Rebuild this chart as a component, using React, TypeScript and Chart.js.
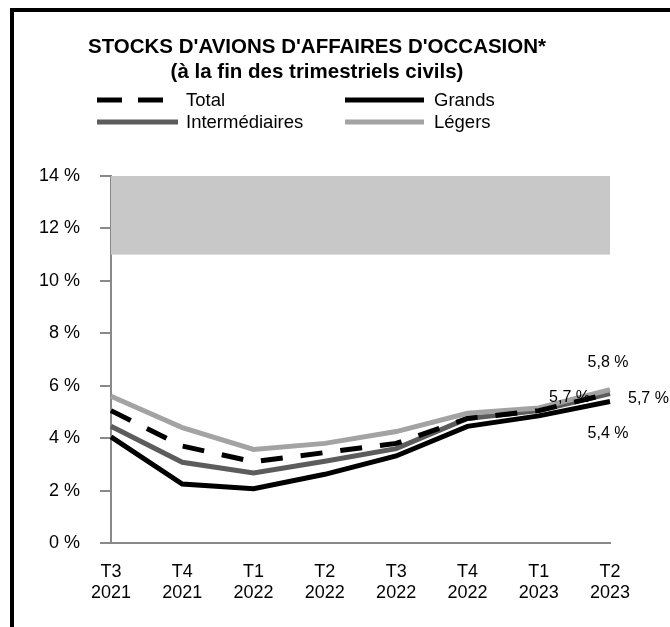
import React, { useEffect, useRef } from "react";
import { Chart, registerables } from "chart.js";

Chart.register(...registerables);

const categories: string[][] = [
  ["T3", "2021"], ["T4", "2021"], ["T1", "2022"], ["T2", "2022"],
  ["T3", "2022"], ["T4", "2022"], ["T1", "2023"], ["T2", "2023"],
];
const totalValues = [5.05, 3.7, 3.1, 3.45, 3.8, 4.75, 5.05, 5.7];
const grandsValues = [4.05, 2.25, 2.07, 2.62, 3.32, 4.45, 4.85, 5.4];
const intermValues = [4.45, 3.08, 2.67, 3.12, 3.6, 4.75, 5.05, 5.7];
const legersValues = [5.6, 4.4, 3.57, 3.8, 4.25, 4.95, 5.15, 5.85];
const bandRange = [11, 14];
const yMin = 0;
const yMax = 14;
const yStep = 2;
const endLabels = { total: "5,7 %", grands: "5,4 %", interm: "5,7 %", legers: "5,8 %" };
const titleLines = ["STOCKS D'AVIONS D'AFFAIRES D'OCCASION*", "(à la fin des trimestriels civils)"];

const FONT = "'Liberation Sans', Arial, sans-serif";
const AXIS_GREY = "#898989";
const BAND_GREY = "#c8c8c8";
const INTERM_GREY = "#5c5c5c";
const LEGERS_GREY = "#a3a3a3";

const bandPlugin = {
  id: "band",
  beforeDatasetsDraw(chart: any) {
    const { ctx, chartArea, scales } = chart;
    const y = scales.y;
    const top = y.getPixelForValue(bandRange[1]);
    const bottom = y.getPixelForValue(bandRange[0]);
    ctx.save();
    ctx.fillStyle = BAND_GREY;
    ctx.fillRect(chartArea.left, top, chartArea.right - chartArea.left, bottom - top);
    ctx.restore();
  },
};

const headerPlugin = {
  id: "header",
  afterDraw(chart: any) {
    const { ctx } = chart;
    ctx.save();
    ctx.fillStyle = "#000";
    ctx.textAlign = "center";
    ctx.textBaseline = "middle";
    ctx.font = `bold 20.5px ${FONT}`;
    ctx.fillText(titleLines[0], 317, 47.5);
    ctx.fillText(titleLines[1], 317, 72.5);

    const items = [
      { label: "Total", color: "#000", dash: [25, 16], x: 97, x2: 164, tx: 186, y: 100 },
      { label: "Grands", color: "#000", dash: [], x: 345, x2: 424, tx: 434, y: 100 },
      { label: "Intermédiaires", color: INTERM_GREY, dash: [], x: 97, x2: 178, tx: 186, y: 122 },
      { label: "Légers", color: LEGERS_GREY, dash: [], x: 345, x2: 424, tx: 434, y: 122 },
    ];
    ctx.font = `18.5px ${FONT}`;
    ctx.textAlign = "left";
    for (const it of items) {
      ctx.beginPath();
      ctx.lineWidth = 5;
      ctx.strokeStyle = it.color;
      ctx.setLineDash(it.dash);
      ctx.lineCap = "butt";
      ctx.moveTo(it.x, it.y);
      ctx.lineTo(it.x2, it.y);
      ctx.stroke();
      ctx.setLineDash([]);
      ctx.fillStyle = "#000";
      ctx.fillText(it.label, it.tx, it.y + 1);
    }
    ctx.restore();
  },
};

const endLabelPlugin = {
  id: "endLabels",
  afterDatasetsDraw(chart: any) {
    const { ctx } = chart;
    ctx.save();
    ctx.fillStyle = "#000";
    ctx.font = `16px ${FONT}`;
    chart.data.datasets.forEach((ds: any, i: number) => {
      const meta = chart.getDatasetMeta(i);
      const pt = meta.data[meta.data.length - 1];
      if (!pt) return;
      const x = pt.x;
      const y = pt.y;
      const pos = ds.endPos;
      const txt = ds.endLabel;
      ctx.textBaseline = "middle";
      if (pos === "above") {
        ctx.textAlign = "center";
        ctx.fillText(txt, x - 2, y - 27);
      } else if (pos === "below") {
        ctx.textAlign = "center";
        ctx.fillText(txt, x - 2, y + 32);
      } else if (pos === "right") {
        ctx.textAlign = "left";
        ctx.fillText(txt, x + 18, y + 5);
      } else if (pos === "left") {
        ctx.textAlign = "right";
        ctx.fillText(txt, x - 20, y + 4);
      }
    });
    ctx.restore();
  },
};

export default function App() {
  const canvasRef = useRef<HTMLCanvasElement | null>(null);

  useEffect(() => {
    const canvas = canvasRef.current;
    if (!canvas) return;
    const chart = new Chart(canvas, {
      type: "line",
      data: {
        labels: categories,
        datasets: [
          {
            label: "Total",
            data: totalValues,
            borderColor: "#000",
            borderWidth: 5,
            borderDash: [22, 18],
            pointRadius: 0,
            tension: 0,
            fill: false,
            endLabel: endLabels.total,
            endPos: "right",
          } as any,
          {
            label: "Légers",
            data: legersValues,
            borderColor: LEGERS_GREY,
            borderWidth: 5,
            pointRadius: 0,
            tension: 0,
            fill: false,
            endLabel: endLabels.legers,
            endPos: "above",
          } as any,
          {
            label: "Intermédiaires",
            data: intermValues,
            borderColor: INTERM_GREY,
            borderWidth: 5,
            pointRadius: 0,
            tension: 0,
            fill: false,
            endLabel: endLabels.interm,
            endPos: "left",
          } as any,
          {
            label: "Grands",
            data: grandsValues,
            borderColor: "#000",
            borderWidth: 5,
            pointRadius: 0,
            tension: 0,
            fill: false,
            endLabel: endLabels.grands,
            endPos: "below",
          } as any,
        ],
      },
      options: {
        animation: false,
        responsive: false,
        maintainAspectRatio: false,
        events: [],
        layout: { padding: { left: 0, right: 60, top: 176, bottom: 0 } },
        plugins: {
          legend: { display: false },
          title: { display: false },
          tooltip: { enabled: false },
        },
        scales: {
          x: {
            type: "category",
            offset: false,
            grid: { display: false, drawTicks: false },
            border: { display: true, color: AXIS_GREY, width: 2 },
            ticks: {
              color: "#000",
              font: { family: FONT, size: 18, lineHeight: 1.2 },
              padding: 18,
              maxRotation: 0,
              autoSkip: false,
            },
            afterFit(scale: any) {
              scale.height = 84;
            },
          },
          y: {
            min: yMin,
            max: yMax,
            grid: {
              display: true,
              drawOnChartArea: false,
              drawTicks: true,
              tickLength: 11,
              color: AXIS_GREY,
              lineWidth: 2,
            },
            border: { display: true, color: AXIS_GREY, width: 2 },
            ticks: {
              stepSize: yStep,
              color: "#000",
              font: { family: FONT, size: 18 },
              padding: 20,
              callback: (v: any) => `${v} %`,
            },
            afterFit(scale: any) {
              scale.width = 111;
            },
          },
        },
      },
      plugins: [bandPlugin, headerPlugin, endLabelPlugin],
    } as any);
    return () => chart.destroy();
  }, []);

  return (
    <div>
      <canvas
        ref={canvasRef}
        width={670}
        height={627}
        style={{ position: "fixed", left: 0, top: 0, width: 670, height: 627 }}
      />
      <div
        style={{
          position: "fixed",
          left: 10,
          top: 8,
          width: 720,
          height: 700,
          border: "4px solid #000",
          boxSizing: "border-box",
          pointerEvents: "none",
        }}
      />
    </div>
  );
}
